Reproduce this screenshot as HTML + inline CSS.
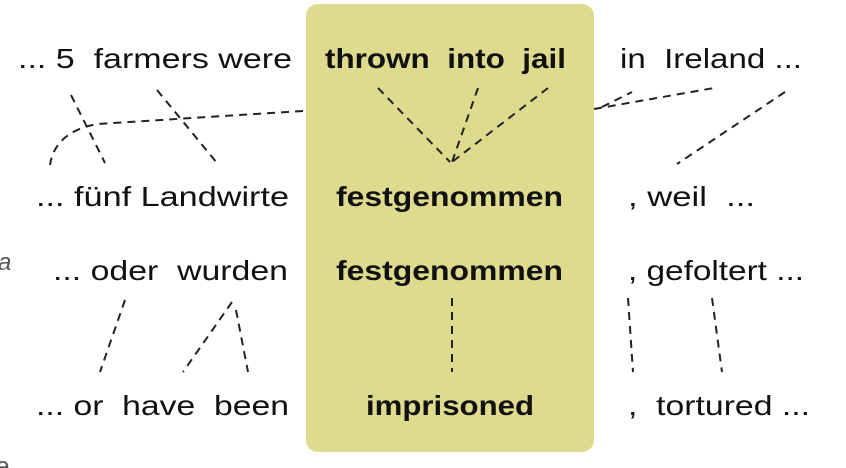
<!DOCTYPE html>
<html><head><meta charset="utf-8"><style>html,body{margin:0;padding:0;background:#fff;width:846px;height:468px;overflow:hidden}</style></head>
<body>
<svg width="846" height="468" viewBox="0 0 846 468" xmlns="http://www.w3.org/2000/svg" font-family="Liberation Sans, sans-serif" font-size="28" fill="#111">
<rect x="306" y="4" width="288" height="448" rx="12" fill="#dedb8e"/>
<g stroke="#222" stroke-width="2" stroke-dasharray="8,6" fill="none">
<line x1="71" y1="95" x2="105" y2="163"/>
<line x1="157" y1="90" x2="217" y2="163"/>
<path d="M303 111 L97 124 Q55 132 50 165"/>
<line x1="378" y1="88" x2="450" y2="162"/>
<line x1="478" y1="88" x2="452" y2="162"/>
<line x1="548" y1="88" x2="452" y2="162"/>
<line x1="594" y1="109" x2="714" y2="88"/>
<line x1="602" y1="107" x2="632" y2="92"/>
<line x1="785" y1="92" x2="677" y2="164"/>
<line x1="125" y1="300" x2="100" y2="372"/>
<line x1="232" y1="302" x2="183" y2="372"/>
<line x1="236" y1="310" x2="248" y2="372"/>
<line x1="452" y1="298" x2="452" y2="372"/>
<line x1="628" y1="298" x2="633" y2="372"/>
<line x1="712" y1="298" x2="722" y2="372"/>
</g>
<text x="18" y="68" textLength="274" lengthAdjust="spacingAndGlyphs" xml:space="preserve">... 5  farmers were</text>
<text x="325" y="68" textLength="241" lengthAdjust="spacingAndGlyphs" font-weight="bold" xml:space="preserve">thrown  into  jail</text>
<text x="620" y="68" textLength="182" lengthAdjust="spacingAndGlyphs" xml:space="preserve">in  Ireland ...</text>
<text x="36" y="206" textLength="253" lengthAdjust="spacingAndGlyphs">... fünf Landwirte</text>
<text x="336" y="206" textLength="227" lengthAdjust="spacingAndGlyphs" font-weight="bold">festgenommen</text>
<text x="628" y="206" textLength="127" lengthAdjust="spacingAndGlyphs" xml:space="preserve">, weil  ...</text>
<text x="53" y="280" textLength="235" lengthAdjust="spacingAndGlyphs" xml:space="preserve">... oder  wurden</text>
<text x="336" y="280" textLength="227" lengthAdjust="spacingAndGlyphs" font-weight="bold">festgenommen</text>
<text x="628" y="280" textLength="176" lengthAdjust="spacingAndGlyphs">, gefoltert ...</text>
<text x="36" y="415" textLength="253" lengthAdjust="spacingAndGlyphs" xml:space="preserve">... or  have  been</text>
<text x="366" y="415" textLength="168" lengthAdjust="spacingAndGlyphs" font-weight="bold">imprisoned</text>
<text x="628" y="415" textLength="182" lengthAdjust="spacingAndGlyphs" xml:space="preserve">,  tortured ...</text>
<text x="-2" y="270" font-size="24" font-style="italic" fill="#555">a</text>
<text x="-4" y="474" font-size="24" fill="#555">e</text>
</svg>
</body></html>
